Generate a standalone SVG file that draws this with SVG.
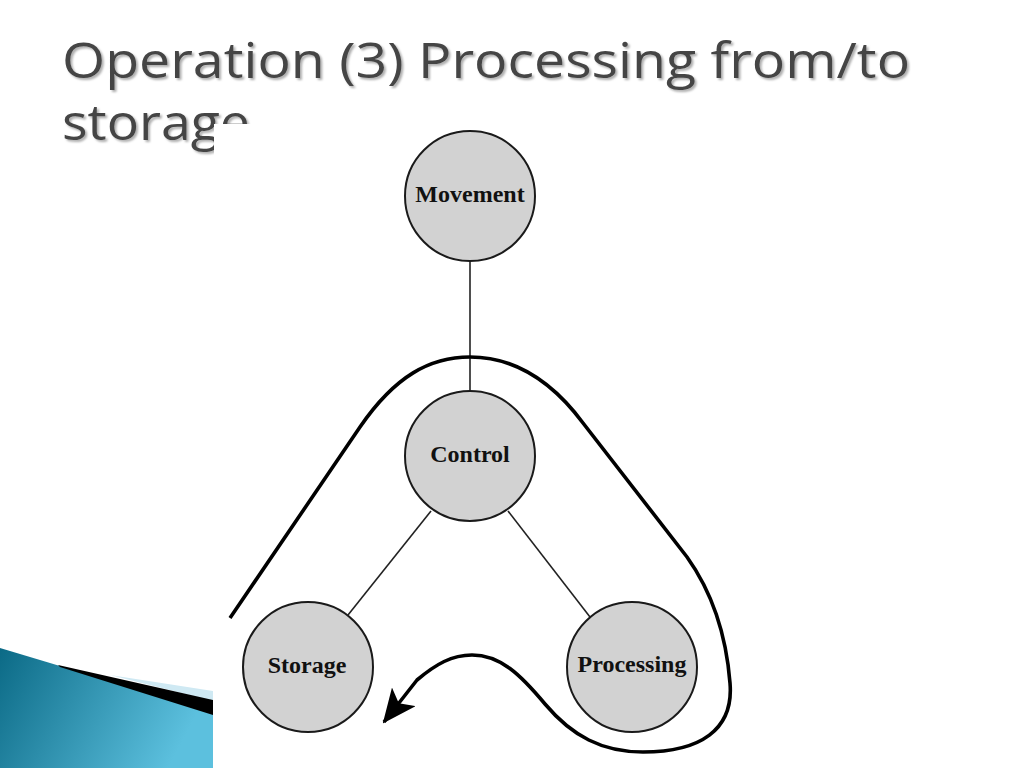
<svg xmlns="http://www.w3.org/2000/svg" width="1024" height="768" viewBox="0 0 1024 768">
<style>
.title{font-family:"Open Sans","Noto Sans","DejaVu Sans",sans-serif;font-size:50px;fill:#444444;filter:url(#shadow)}
.node circle{fill:#d2d2d2;stroke:#1a1a1a;stroke-width:2}
.node text{font-family:"Liberation Serif","Times New Roman",serif;font-weight:bold;font-size:24px;fill:#111;text-anchor:middle}
.link{stroke:#222;stroke-width:1.6;fill:none}
.flow{stroke:#000;stroke-width:3.6;fill:none;stroke-linejoin:round}
</style>
<defs>
<filter id="shadow" x="-5%" y="-20%" width="110%" height="150%">
<feDropShadow dx="2" dy="2" stdDeviation="0.8" flood-color="#9a9a9a" flood-opacity="0.8"/>
</filter>
<linearGradient id="blue" x1="0" y1="0" x2="1" y2="0.3">
<stop offset="0" stop-color="#0b6a86"/>
<stop offset="1" stop-color="#5cc0de"/>
</linearGradient>
<marker id="arrow" markerUnits="userSpaceOnUse" markerWidth="34" markerHeight="30" viewBox="0 0 34 30" refX="32" refY="15" orient="auto">
<path d="M0,0 L34,15 L0,30 L8,15 z" fill="#000"/>
</marker>
</defs>
<rect width="1024" height="768" fill="#ffffff"/>
<g id="title">
<text class="title" x="62" y="78" textLength="848" lengthAdjust="spacingAndGlyphs">Operation (3) Processing from/to</text>
<text class="title" x="62" y="140" textLength="188" lengthAdjust="spacingAndGlyphs">storage</text>
</g>
<g id="decoration">
<polygon points="0,648 60,666 213,714 213,768 0,768" fill="url(#blue)"/>
<polygon points="110,675 213,691 213,701" fill="#cfe9f3"/>
<polygon points="58,665 213,700 213,715 60,667" fill="#000"/>
</g>
<rect x="214" y="124" width="810" height="644" fill="#ffffff"/>
<g id="connectors">
<line class="link" x1="470" y1="261" x2="470" y2="391"/>
<line class="link" x1="431" y1="511" x2="348" y2="615"/>
<line class="link" x1="508" y1="511" x2="590" y2="617"/>
<path class="flow" marker-end="url(#arrow)" d="M230,618 L360,427 C395,376 430,357 470,357 C510,357 548,376 583,423 L687,557 C712,592 726,632 730,683 C734,730 700,752 643,752 C602,752 572,736 545,704 C520,674 500,655 472,655 C452,655 436,664 417,680 L384,722"/>
</g>
<g id="node-movement" class="node">
<circle cx="470" cy="196" r="65"/>
<text x="470" y="202">Movement</text>
</g>
<g id="node-control" class="node">
<circle cx="470" cy="456" r="65"/>
<text x="470" y="462">Control</text>
</g>
<g id="node-storage" class="node">
<circle cx="308" cy="667" r="65"/>
<text x="307" y="673">Storage</text>
</g>
<g id="node-processing" class="node">
<circle cx="632" cy="667" r="65"/>
<text x="632" y="672">Processing</text>
</g>
</svg>
